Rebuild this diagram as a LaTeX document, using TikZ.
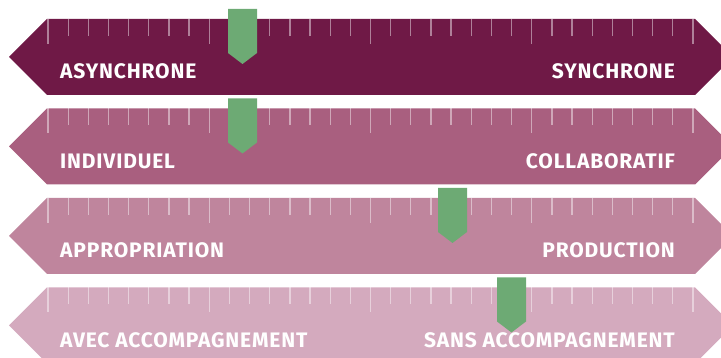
\documentclass[tikz,border=0pt]{standalone}
\usepackage{fontspec}
\setmainfont{Fira Sans}[LetterSpace=4]
\definecolor{bandA}{HTML}{6F1946}
\definecolor{bandB}{HTML}{A95F7F}
\definecolor{bandC}{HTML}{BF859D}
\definecolor{bandD}{HTML}{D4AABE}
\definecolor{mark}{HTML}{6DAA74}
\tikzset{
  lbl/.style={text=white, font=\fontsize{21}{21}\selectfont\bfseries, inner sep=0pt},
  tick/.style={draw=white, draw opacity=0.45, line width=1.3pt},
  marker/.style={fill=mark, draw=none}
}
\newcommand\drawband[6]{%
  % #1 top, #2 colour, #3 left text, #4 right text, #5 marker left x, #6 name
  \fill[#2] (9,#1+38) -- (47,#1) -- (695,#1) -- (733,#1+38) -- (695,#1+76) -- (47,#1+76) -- cycle;
  \foreach \i in {0,...,32}{%
    \pgfmathsetmacro\tx{48+\i*20.156}%
    \pgfmathtruncatemacro\lng{mod(\i,8)==0 ? 1 : 0}%
    \ifnum\lng=1
      \draw[tick] (\tx,#1) -- (\tx,#1+25);
    \else
      \draw[tick] (\tx,#1) -- (\tx,#1+17);
    \fi
  }
  \fill[marker] (#5,#1-10) -- (#5+29,#1-10) -- (#5+29,#1+34) -- (#5+14.5,#1+45) -- (#5,#1+34) -- cycle;
  \node[lbl, anchor=base west] (#6l) at (60,#1+60) {#3};
  \node[lbl, anchor=base east] (#6r) at (675,#1+60) {#4};
}
\begin{document}
\begin{tikzpicture}[x=1pt,y=-1pt]
\useasboundingbox (0,0) rectangle (721,358);
\clip (0,0) rectangle (721,358);
\drawband{19}{bandA}{ASYNCHRONE}{SYNCHRONE}{228}{a}
\drawband{108.5}{bandB}{INDIVIDUEL}{COLLABORATIF}{228}{b}
\drawband{198}{bandC}{APPROPRIATION}{PRODUCTION}{438}{c}
\drawband{287.5}{bandD}{AVEC ACCOMPAGNEMENT}{SANS ACCOMPAGNEMENT}{497}{d}
\end{tikzpicture}
\end{document}
